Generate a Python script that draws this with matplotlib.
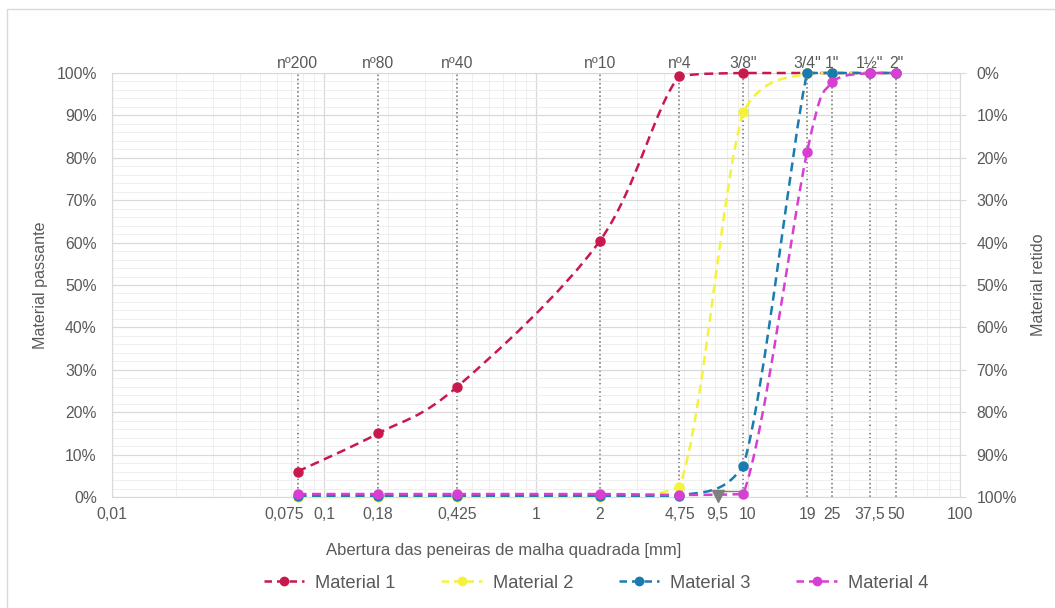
import numpy as np
import matplotlib
matplotlib.use('Agg')
import matplotlib.pyplot as plt
from matplotlib.path import Path
from matplotlib.patches import PathPatch, Rectangle
from matplotlib.lines import Line2D
from matplotlib.ticker import FixedLocator, MultipleLocator, LogLocator, NullFormatter, FuncFormatter
import matplotlib.transforms as mtransforms

plt.rcParams['font.family'] = ['Liberation Sans', 'DejaVu Sans']

# peneiras (abertura em mm) e nomes
peneiras = [0.075, 0.18, 0.425, 2, 4.75, 9.5, 19, 25, 37.5, 50]
nomes = ['nº200', 'nº80', 'nº40', 'nº10', 'nº4', '3/8"', '3/4"', '1"', '1½"', '2"']

# % passante de cada material
mat1 = [6.0, 15.0, 26.0, 60.4, 99.3, 100, 100, 100, 100, 100]
mat2 = [0.0, 0.0, 0.0, 0.0, 2.4, 90.8, 100, 100, 100, 100]
mat3 = [0.3, 0.3, 0.3, 0.3, 0.3, 7.3, 100, 100, 100, 100]
mat4 = [0.7, 0.7, 0.7, 0.7, 0.5, 0.7, 81.4, 97.9, 100, 100]

series = ['Material 1', 'Material 2', 'Material 3', 'Material 4']
cores = ['#C8184C', '#F4F23A', '#1A7BB0', '#D63FD2']

# 0,075 e 9,5 vao como texto deslocado
xticks = [0.01, 0.1, 0.18, 0.425, 1, 2, 4.75, 10, 19, 25, 37.5, 50, 100]

cinza = '#595959'
fs = 11.3


def curva_suave(x, y):
    # bezier no espaco log(x) / y, controles limitados ao trecho (sem overshoot)
    lx = np.log10(x)
    y = np.asarray(y, float)
    n = len(lx)
    verts = [(x[0], y[0])]
    codes = [Path.MOVETO]
    for i in range(n - 1):
        p0 = max(i - 1, 0)
        p3 = min(i + 2, n - 1)
        lo, hi = min(y[i], y[i + 1]), max(y[i], y[i + 1])
        c1x = lx[i] + (lx[i + 1] - lx[p0]) / 6
        c1y = np.clip(y[i] + (y[i + 1] - y[p0]) / 6, lo, hi)
        c2x = lx[i + 1] - (lx[p3] - lx[i]) / 6
        c2y = np.clip(y[i + 1] - (y[p3] - y[i]) / 6, lo, hi)
        verts += [(10 ** c1x, c1y), (10 ** c2x, c2y), (x[i + 1], y[i + 1])]
        codes += [Path.CURVE4] * 3
    return Path(verts, codes)


fig = plt.figure(figsize=(10.55, 6.08), dpi=100)
ax = fig.add_axes([112 / 1055, 1 - 497 / 608, 848 / 1055, 424 / 608])

# moldura do grafico
fig.patches.append(Rectangle((7 / 1055, -0.05), 1.1, 1 - 9 / 608 + 0.05, transform=fig.transFigure,
                             fill=False, edgecolor='#D9D9D9', lw=1))

ax.set_xscale('log')
ax.set_xlim(0.01, 100)
ax.set_ylim(0, 100)

ax.xaxis.set_major_locator(FixedLocator(xticks))
ax.xaxis.set_major_formatter(FuncFormatter(lambda v, p: ('%g' % v).replace('.', ',')))
ax.xaxis.set_minor_locator(LogLocator(base=10, subs=np.arange(2, 10)))
ax.xaxis.set_minor_formatter(NullFormatter())
ax.yaxis.set_major_locator(MultipleLocator(10))
ax.yaxis.set_minor_locator(MultipleLocator(2))
ax.yaxis.set_major_formatter(FuncFormatter(lambda v, p: '%d%%' % v))

ax.tick_params(which='both', length=0, labelsize=fs, labelcolor=cinza, pad=7)
ax.tick_params(axis='y', pad=11)

# grade
for d in [0.01, 0.1, 1, 10, 100]:
    ax.axvline(d, color='#D9D9D9', lw=0.9, zorder=0)
ax.grid(which='minor', color='#EFEFEF', lw=0.7, zorder=0)
ax.grid(which='major', axis='y', color='#D9D9D9', lw=0.9, zorder=0)
for s in ax.spines.values():
    s.set_color('#D9D9D9')

# linhas das peneiras
for p, nm in zip(peneiras, nomes):
    ax.plot([p, p], [0, 100], color='#7F7F7F', ls=(0, (1, 1.5)), lw=1.2, zorder=1)
    ax.text(p, 1.005, nm, transform=ax.get_xaxis_transform(), ha='center', va='bottom',
            fontsize=fs, color=cinza)

# curvas granulometricas
for nome, dados, cor in zip(series, [mat1, mat2, mat3, mat4], cores):
    patch = PathPatch(curva_suave(peneiras, dados), fill=False, edgecolor=cor, lw=1.8,
                      ls=(0, (3.6, 2.2)), zorder=3, capstyle='butt')
    patch.set_clip_on(False)
    ax.add_patch(patch)
    ax.plot(peneiras, dados, 'o', color=cor, ms=6.5, zorder=4, clip_on=False)

# rotulos deslocados: 0,075 e 9,5 (chamada com seta)
ax.plot([9.5, 7.2], [1.5, 1.5], color='#7F7F7F', lw=1, zorder=5)
ax.plot([7.2], [0.2], marker='v', ms=9, color='#7F7F7F', zorder=5, clip_on=False)
tr = mtransforms.offset_copy(ax.get_xaxis_transform(), fig=fig, y=-7, units='points')
ax.text(7.15, 0, '9,5', transform=tr, ha='center', va='top', fontsize=fs, color=cinza)
ax.text(0.0647, 0, '0,075', transform=tr, ha='center', va='top', fontsize=fs, color=cinza)

ax.set_ylabel('Material passante', fontsize=11.6, color=cinza, labelpad=6)
ax.set_xlabel('Abertura das peneiras de malha quadrada [mm]', fontsize=12, color=cinza)
ax.xaxis.set_label_coords(392 / 848, -46 / 424)

# eixo secundario: material retido
ax2 = ax.twinx()
ax2.set_ylim(100, 0)
ax2.yaxis.set_major_locator(MultipleLocator(10))
ax2.yaxis.set_major_formatter(FuncFormatter(lambda v, p: '%d%%' % v))
ax2.tick_params(length=4, color='#D9D9D9', labelsize=fs, labelcolor=cinza, pad=8)
for s in ax2.spines.values():
    s.set_visible(False)
ax2.set_ylabel('Material retido', fontsize=11.6, color=cinza, labelpad=10)

handles = [Line2D([], [], color=c, ls=(0, (3, 2)), lw=1.8, marker='o', ms=6) for c in cores]
fig.legend(handles, series, loc='center', bbox_to_anchor=(596 / 1055, 1 - 583 / 608), ncol=4,
           frameon=False, fontsize=13.2, labelcolor=cinza, handlelength=2.2, columnspacing=2.5,
           handletextpad=0.6)

fig.savefig('out.png', dpi=100)
